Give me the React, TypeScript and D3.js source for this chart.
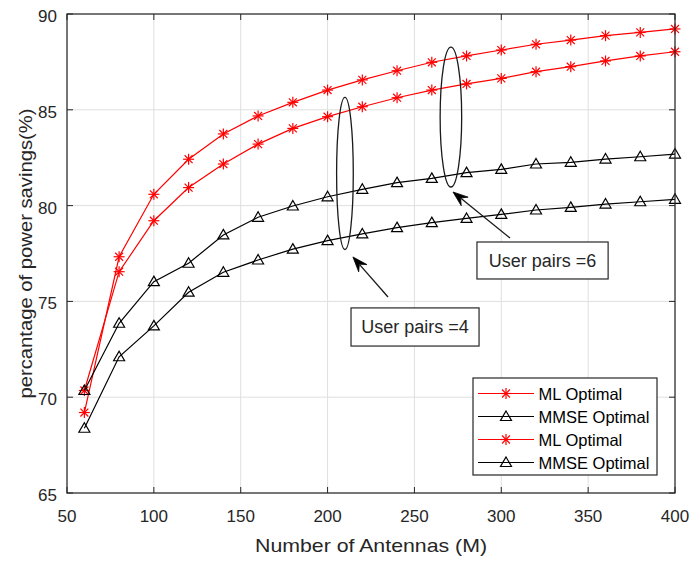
import React from "react";
import * as d3 from "d3";

const antennas = [60, 80, 100, 120, 140, 160, 180, 200, 220, 240, 260, 280, 300, 320, 340, 360, 380, 400];
const mlPairs6 = [69.2, 77.33, 80.59, 82.42, 83.74, 84.68, 85.39, 86.03, 86.56, 87.04, 87.48, 87.81, 88.12, 88.42, 88.64, 88.87, 89.04, 89.22];
const mlPairs4 = [70.35, 76.55, 79.21, 80.94, 82.17, 83.21, 84.03, 84.64, 85.16, 85.63, 86.03, 86.35, 86.64, 86.99, 87.25, 87.55, 87.81, 88.03];
const mmsePairs6 = [70.35, 73.86, 76.03, 76.99, 78.47, 79.39, 79.98, 80.46, 80.85, 81.2, 81.42, 81.72, 81.89, 82.17, 82.26, 82.43, 82.55, 82.69];
const mmsePairs4 = [68.38, 72.11, 73.72, 75.48, 76.52, 77.16, 77.73, 78.17, 78.52, 78.85, 79.11, 79.33, 79.54, 79.77, 79.91, 80.08, 80.2, 80.33];

const xTicks = [50, 100, 150, 200, 250, 300, 350, 400];
const yTicks = [65, 70, 75, 80, 85, 90];
const legendLabels = ["ML Optimal", "MMSE Optimal", "ML Optimal", "MMSE Optimal"];
const legendKinds = ["ml", "mmse", "ml", "mmse"];

const annotationTexts = ["User pairs =4", "User pairs =6"];
// ellipses: [cx, cy, rx(data x), ry(data y)]
const ellipses = [
  [210, 81.68, 4.8, 3.97],
  [271, 84.62, 6.2, 3.65],
];
// arrows: [x0, y0, x1(tip), y1(tip)]
const arrows = [
  [234.8, 75.23, 214.6, 77.32],
  [305, 78.31, 272.2, 80.71],
];
// text boxes: [x0, yTop, x1, yBottom]
const boxes = [
  [213.5, 74.66, 287.2, 72.67],
  [286, 78.1, 361.5, 76.17],
];

const W = 692, H = 561;
const L = 67, R = 675, T = 14, B = 493;
const FONT = "'Liberation Sans', Arial, Helvetica, sans-serif";
const RED = "#ff0000";

const x = d3.scaleLinear().domain([50, 400]).range([L, R]);
const y = d3.scaleLinear().domain([65, 90]).range([B, T]);

function Star({ cx, cy }: { cx: number; cy: number }) {
  const r = 5.5, d = r * 0.72;
  return (
    <g stroke={RED} strokeWidth={1.2}>
      <line x1={cx - r} y1={cy} x2={cx + r} y2={cy} />
      <line x1={cx} y1={cy - r} x2={cx} y2={cy + r} />
      <line x1={cx - d} y1={cy - d} x2={cx + d} y2={cy + d} />
      <line x1={cx - d} y1={cy + d} x2={cx + d} y2={cy - d} />
    </g>
  );
}

function Tri({ cx, cy }: { cx: number; cy: number }) {
  const p = `M${cx},${cy - 5.5} L${cx + 5.5},${cy + 4} L${cx - 5.5},${cy + 4} Z`;
  return <path d={p} fill="none" stroke="#000" strokeWidth={1.2} />;
}

export default function App() {
  const line = d3
    .line<[number, number]>()
    .x((d) => x(d[0]))
    .y((d) => y(d[1]));
  const series = [
    { vals: mlPairs6, kind: "ml" },
    { vals: mlPairs4, kind: "ml" },
    { vals: mmsePairs6, kind: "mmse" },
    { vals: mmsePairs4, kind: "mmse" },
  ];
  const axisColor = "#262626";
  const gridColor = "#dfdfdf";
  const legX0 = 473, legY0 = 378, legX1 = 657, legY1 = 475;
  const legRows = [393.5, 416.5, 439.5, 462.5];

  return (
    <svg width={W} height={H} style={{ position: "absolute", left: 0, top: 0, background: "#fff" }} fontFamily={FONT}>
      <rect x={0} y={0} width={W} height={H} fill="#fff" />
      {/* grid */}
      {xTicks.map((t) => (
        <line key={"gx" + t} x1={x(t)} x2={x(t)} y1={T} y2={B} stroke={gridColor} strokeWidth={1} />
      ))}
      {yTicks.map((t) => (
        <line key={"gy" + t} x1={L} x2={R} y1={y(t)} y2={y(t)} stroke={gridColor} strokeWidth={1} />
      ))}
      {/* series */}
      {series.map((s, i) => {
        const pts = antennas.map((a, j) => [a, s.vals[j]] as [number, number]);
        return (
          <g key={"s" + i}>
            <path d={line(pts) || ""} fill="none" stroke={s.kind === "ml" ? RED : "#000"} strokeWidth={1.2} />
            {pts.map((p, j) =>
              s.kind === "ml" ? (
                <Star key={j} cx={x(p[0])} cy={y(p[1])} />
              ) : (
                <Tri key={j} cx={x(p[0])} cy={y(p[1])} />
              )
            )}
          </g>
        );
      })}
      {/* axes box */}
      <rect x={L} y={T} width={R - L} height={B - T} fill="none" stroke={axisColor} strokeWidth={1.2} />
      {xTicks.map((t) => (
        <g key={"tx" + t}>
          <line x1={x(t)} x2={x(t)} y1={B} y2={B - 6} stroke={axisColor} />
          <line x1={x(t)} x2={x(t)} y1={T} y2={T + 6} stroke={axisColor} />
          <text x={x(t)} y={521.5} textAnchor="middle" fontSize={17} fill="#262626">
            {t}
          </text>
        </g>
      ))}
      {yTicks.map((t) => (
        <g key={"ty" + t}>
          <line x1={L} x2={L + 6} y1={y(t)} y2={y(t)} stroke={axisColor} />
          <line x1={R} x2={R - 6} y1={y(t)} y2={y(t)} stroke={axisColor} />
          <text x={57} y={y(t) + 8} textAnchor="end" fontSize={17} fill="#262626">
            {t}
          </text>
        </g>
      ))}
      <text x={(L + R) / 2} y={552} textAnchor="middle" fontSize={19} fill="#262626" textLength={232} lengthAdjust="spacingAndGlyphs">
        Number of Antennas (M)
      </text>
      <text
        transform={`translate(31.5, ${(T + B) / 2}) rotate(-90)`}
        textAnchor="middle"
        fontSize={19}
        fill="#262626"
        textLength={290}
        lengthAdjust="spacingAndGlyphs"
      >
        percantage of power savings(%)
      </text>
      {/* ellipses */}
      {ellipses.map((e, i) => (
        <ellipse
          key={"e" + i}
          cx={x(e[0])}
          cy={y(e[1])}
          rx={x(e[0] + e[2]) - x(e[0])}
          ry={y(e[1] - e[3]) - y(e[1])}
          fill="none"
          stroke="#1a1a1a"
          strokeWidth={1.3}
        />
      ))}
      {/* arrows */}
      {arrows.map((a, i) => {
        const x0 = x(a[0]), y0 = y(a[1]), x1 = x(a[2]), y1 = y(a[3]);
        const ang = Math.atan2(y1 - y0, x1 - x0);
        const len = 15, hw = 5.5;
        const bx = x1 - len * Math.cos(ang), by = y1 - len * Math.sin(ang);
        const px = -Math.sin(ang), py = Math.cos(ang);
        const head = `M${x1},${y1} L${bx + px * hw},${by + py * hw} L${bx + 0.35 * len * Math.cos(ang)},${by + 0.35 * len * Math.sin(ang)} L${bx - px * hw},${by - py * hw} Z`;
        return (
          <g key={"a" + i}>
            <line x1={x0} y1={y0} x2={bx + 0.3 * len * Math.cos(ang)} y2={by + 0.3 * len * Math.sin(ang)} stroke="#1a1a1a" strokeWidth={1.3} />
            <path d={head} fill="#000" stroke="#000" strokeWidth={0.8} />
          </g>
        );
      })}
      {/* text boxes */}
      {boxes.map((b, i) => {
        const bx0 = x(b[0]), by0 = y(b[1]), bx1 = x(b[2]), by1 = y(b[3]);
        return (
          <g key={"b" + i}>
            <rect x={bx0} y={by0} width={bx1 - bx0} height={by1 - by0} fill="#fff" stroke="#262626" strokeWidth={1.2} />
            <text x={(bx0 + bx1) / 2} y={(by0 + by1) / 2 + 6.5} textAnchor="middle" fontSize={18} fill="#262626">
              {annotationTexts[i]}
            </text>
          </g>
        );
      })}
      {/* legend */}
      <rect x={legX0} y={legY0} width={legX1 - legX0} height={legY1 - legY0} fill="#fff" stroke="#262626" strokeWidth={1.2} />
      {legendLabels.map((lab, i) => {
        const yy = legRows[i];
        const isMl = legendKinds[i] === "ml";
        return (
          <g key={"l" + i}>
            <line x1={478} x2={534} y1={yy} y2={yy} stroke={isMl ? RED : "#000"} strokeWidth={1.2} />
            {isMl ? <Star cx={506} cy={yy} /> : <Tri cx={506} cy={yy} />}
            <text x={538.5} y={yy + 6} fontSize={16.5} fill="#000">
              {lab}
            </text>
          </g>
        );
      })}
    </svg>
  );
}
